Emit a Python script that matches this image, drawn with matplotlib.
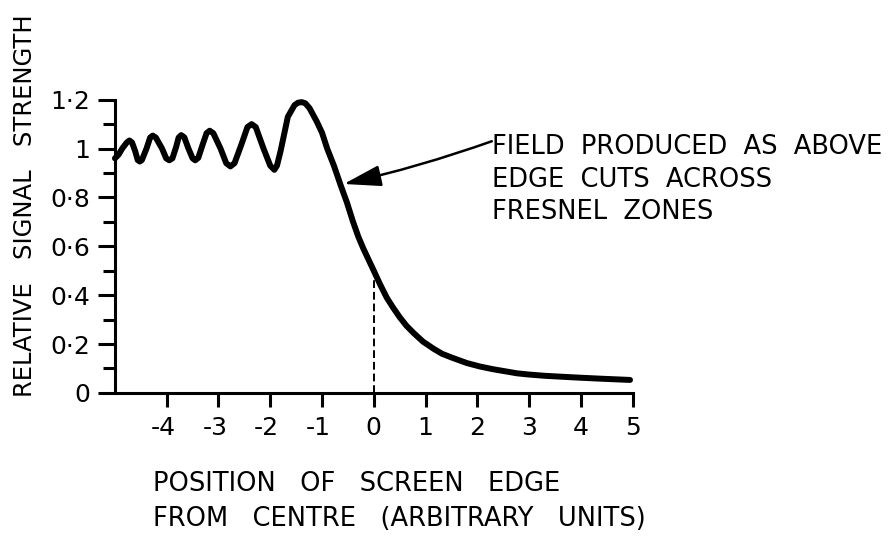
import matplotlib
matplotlib.use("Agg")
import matplotlib.pyplot as plt
import matplotlib.transforms as mtransforms

plt.rcParams['font.family'] = ['DejaVu Sans']

# curve (position of screen edge, relative signal strength)
pos = [-5.00, -4.93, -4.86, -4.77, -4.72, -4.67, -4.61, -4.56, -4.52, -4.48,
       -4.39, -4.32, -4.27, -4.21, -4.09, -4.01, -3.95, -3.89, -3.82, -3.77,
       -3.72, -3.66, -3.58, -3.50, -3.45, -3.39, -3.30, -3.23, -3.17, -3.10,
       -2.96, -2.85, -2.77, -2.69, -2.56, -2.44, -2.36, -2.28, -2.13, -2.00,
       -1.92, -1.87, -1.80, -1.66, -1.53, -1.46, -1.39, -1.32, -1.24, -1.10,
       -1.00, -0.90, -0.77, -0.64, -0.52, -0.40, -0.30, -0.20, -0.10, 0.00,
       0.12, 0.25, 0.37, 0.50, 0.63, 0.77, 0.95, 1.16, 1.32, 1.50,
       1.80, 2.05, 2.30, 2.77, 3.00, 3.30, 3.73, 4.00, 4.40, 4.95]
strength = [0.96, 0.975, 1.00, 1.025, 1.033, 1.025, 0.99, 0.953, 0.947, 0.953,
            1.00, 1.045, 1.053, 1.045, 1.00, 0.96, 0.952, 0.96, 1.005, 1.045,
            1.055, 1.046, 1.00, 0.96, 0.952, 0.962, 1.02, 1.063, 1.073, 1.063,
            1.00, 0.94, 0.927, 0.94, 1.015, 1.088, 1.10, 1.088, 1.00, 0.93,
            0.913, 0.93, 0.99, 1.13, 1.178, 1.188, 1.19, 1.185, 1.165, 1.11,
            1.065, 1.00, 0.93, 0.85, 0.78, 0.70, 0.64, 0.59, 0.545, 0.50,
            0.445, 0.39, 0.35, 0.31, 0.275, 0.245, 0.21, 0.18, 0.16, 0.145,
            0.122, 0.108, 0.097, 0.08, 0.075, 0.07, 0.065, 0.062, 0.058, 0.053]

# screen edge at the centre -> half the free-space field
edge_pos = 0.0
edge_level = 0.5

x_ticks = [-4, -3, -2, -1, 0, 1, 2, 3, 4, 5]
x_tick_labels = ['-4', '-3', '-2', '-1', '0', '1', '2', '3', '4', '5']
y_ticks = [0, 0.2, 0.4, 0.6, 0.8, 1.0, 1.2]
y_tick_labels = ['0', '0\u00b72', '0\u00b74', '0\u00b76', '0\u00b78', '1', '1\u00b72']
y_minor = [0.1, 0.3, 0.5, 0.7, 0.9, 1.1]

note = 'FIELD  PRODUCED  AS  ABOVE\nEDGE  CUTS  ACROSS\nFRESNEL  ZONES'
arrow_tip = (-0.58, 0.855)
arrow_tail = (2.28, 1.03)

fig = plt.figure(figsize=(8.91, 5.36), dpi=100)
ax = fig.add_axes([0.129, 0.267, 0.581, 0.547])

ax.plot(pos, strength, color='black', lw=4.3, solid_capstyle='round',
        solid_joinstyle='round', clip_on=False)
ax.vlines(edge_pos, 0, edge_level, colors='black', linestyles=(0, (4, 2)), lw=1.4)

ax.set_xlim(-5, 5)
ax.set_ylim(0, 1.2)
for s in ['top', 'right']:
    ax.spines[s].set_visible(False)
for s in ['left', 'bottom']:
    ax.spines[s].set_linewidth(2.2)

ax.set_xticks(x_ticks)
ax.set_xticklabels(x_tick_labels)
ax.set_yticks(y_ticks)
ax.set_yticklabels(y_tick_labels)
ax.set_yticks(y_minor, minor=True)
ax.tick_params(axis='y', which='major', direction='out', length=12, width=2.2, pad=6, labelsize=18)
ax.tick_params(axis='y', which='minor', direction='out', length=8.5, width=2.2)
ax.tick_params(axis='x', which='major', direction='out', length=10, width=2.2, pad=7, labelsize=18)

# keep the digit (not the minus) under its tick
for lbl in ax.get_xticklabels():
    if lbl.get_text().startswith('-'):
        lbl.set_transform(lbl.get_transform() + mtransforms.ScaledTranslation(-2.5 / 72, 0, fig.dpi_scale_trans))

fig.text(25 / 891, 1 - 206 / 536, 'RELATIVE   SIGNAL   STRENGTH', rotation=90,
         ha='center', va='center', fontsize=17.5)
fig.text(153 / 891, 1 - 484 / 536, 'POSITION   OF   SCREEN   EDGE',
         ha='left', va='center', fontsize=18.5)
fig.text(153 / 891, 1 - 519 / 536, 'FROM   CENTRE   (ARBITRARY   UNITS)',
         ha='left', va='center', fontsize=18.5)

fig.text(492 / 891, 1 - 134 / 536, note, ha='left', va='top', fontsize=18.5,
         linespacing=1.33)
ax.annotate('', xy=arrow_tip, xytext=arrow_tail, annotation_clip=False,
            arrowprops=dict(arrowstyle='-|>,head_length=2.3,head_width=0.65',
                            color='black', lw=1.8, shrinkA=0, shrinkB=0,
                            connectionstyle='arc3,rad=-0.03'))

fig.savefig('out.png', dpi=100)
